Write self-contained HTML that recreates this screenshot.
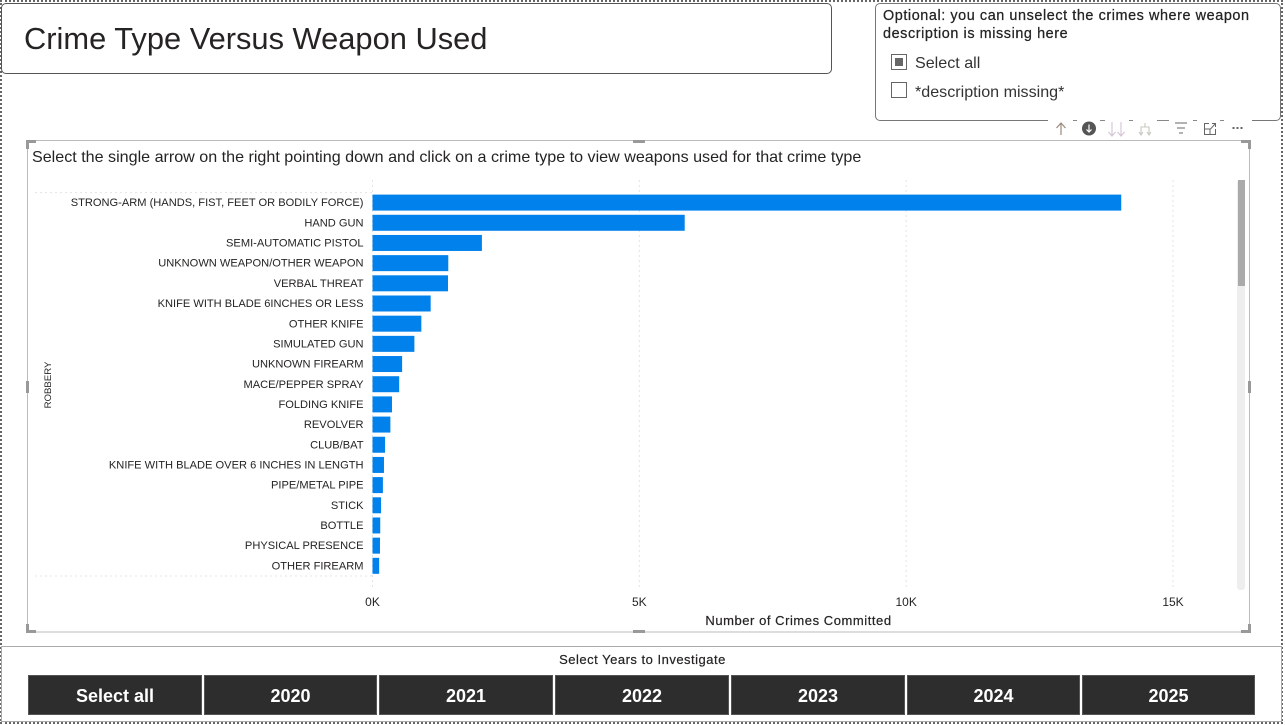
<!DOCTYPE html>
<html lang="en">
<head>
<meta charset="utf-8">
<title>Crime Type Versus Weapon Used</title>
<style>
html,body{margin:0;padding:0;background:#fff;width:1285px;height:725px;overflow:hidden}
#stage{position:relative;width:1285px;height:725px;font-family:"Liberation Sans",sans-serif;color:#222}
#frame{position:absolute;left:0;top:0;width:1279px;height:720px;border:2px dotted #666}
.abs{position:absolute}
#title-card{left:1px;top:3px;width:829px;height:69px;border:1px solid #555;border-radius:5px;background:#fff}
#title-text{position:absolute;left:22px;top:15.5px;font-size:30.85px;line-height:38px;color:#252423;white-space:nowrap}
#slicer-card{left:875px;top:3px;width:404px;height:116px;border:1px solid #777;border-radius:5px;background:#fff}
#slicer-head{position:absolute;left:7px;top:3px;width:396px;font-size:14.4px;line-height:18px;font-weight:400;color:#252423;letter-spacing:.58px;-webkit-text-stroke:.25px #252423}
.check{position:absolute;left:15px;width:14px;height:14px;border:1px solid #666;background:#fff}
.check-label{position:absolute;left:39px;font-size:16.1px;line-height:20px;color:#333;white-space:nowrap}
#check-fill{position:absolute;left:3px;top:3px;width:8px;height:8px;background:#666}
#bottom-card{left:1px;top:646px;width:1279px;height:74px;border:1px solid #aaa;background:#fff}
#years-title{left:0;top:652px;width:1285px;text-align:center;font-size:13px;line-height:16px;color:#252423;letter-spacing:.5px;-webkit-text-stroke:.2px #252423}
.year-btn{position:absolute;top:675px;height:38px;border:1px solid #555;background:#2d2d2d;color:#fff;font-family:"Liberation Sans",sans-serif;font-weight:700;font-size:18px;line-height:41px;text-align:center;padding:0;box-sizing:content-box}
svg{position:absolute;left:0;top:0}
</style>
</head>
<body>
<div id="stage">
  <div id="frame"></div>

  <div id="title-card" class="abs">
    <div id="title-text">Crime Type Versus Weapon Used</div>
  </div>

  <div id="slicer-card" class="abs">
    <div id="slicer-head">Optional: you can unselect the crimes where weapon description is missing here</div>
    <div class="check" style="top:50px"><div id="check-fill"></div></div>
    <div class="check-label" style="top:49px">Select all</div>
    <div class="check" style="top:78px"></div>
    <div class="check-label" style="top:78px">*description missing*</div>
  </div>

  <svg id="chart" width="1285" height="725" viewBox="0 0 1285 725"></svg>

  <div id="bottom-card" class="abs"></div>
  <div id="years-title" class="abs">Select Years to Investigate</div>
  <button class="year-btn" style="left:28px;width:172px">Select all</button>
  <button class="year-btn" style="left:204px;width:171px">2020</button>
  <button class="year-btn" style="left:379px;width:172px">2021</button>
  <button class="year-btn" style="left:555px;width:172px">2022</button>
  <button class="year-btn" style="left:731px;width:172px">2023</button>
  <button class="year-btn" style="left:907px;width:171px">2024</button>
  <button class="year-btn" style="left:1082px;width:171px">2025</button>
</div>

<script>
const categories = [
  "STRONG-ARM (HANDS, FIST, FEET OR BODILY FORCE)",
  "HAND GUN",
  "SEMI-AUTOMATIC PISTOL",
  "UNKNOWN WEAPON/OTHER WEAPON",
  "VERBAL THREAT",
  "KNIFE WITH BLADE 6INCHES OR LESS",
  "OTHER KNIFE",
  "SIMULATED GUN",
  "UNKNOWN FIREARM",
  "MACE/PEPPER SPRAY",
  "FOLDING KNIFE",
  "REVOLVER",
  "CLUB/BAT",
  "KNIFE WITH BLADE OVER 6 INCHES IN LENGTH",
  "PIPE/METAL PIPE",
  "STICK",
  "BOTTLE",
  "PHYSICAL PRESENCE",
  "OTHER FIREARM"
];
const crimeCounts = [14030, 5850, 2050, 1420, 1415, 1090, 915, 785, 555, 500, 365, 335, 235, 215, 195, 160, 145, 140, 125];
const tickValues = [0, 5000, 10000, 15000];
const tickLabels = ["0K", "5K", "10K", "15K"];
const groupLabel = "ROBBERY";

const NS = "http://www.w3.org/2000/svg";
const svg = document.getElementById("chart");
const FONT = '"Liberation Sans",sans-serif';

function xScale(v) { return 372.5 + v * (1173 - 372.5) / 15000; }
function yBand(i) { return 192.6 + i * (576 - 192.6) / categories.length; }

function shape(tag, attrs) {
  const el = document.createElementNS(NS, tag);
  for (const k in attrs) el.setAttribute(k, attrs[k]);
  svg.appendChild(el);
  return el;
}

/* visual frame */
const frameRect = shape("rect", {x: 27.5, y: 140.5, width: 1222, height: 491.5, fill: "#fff", stroke: "#bbb", "stroke-width": 1});



/* heading */
const heading = shape("text", {x: 32, y: 162, "font-size": 16.1, fill: "#252423", "font-family": FONT});
heading.textContent = "Select the single arrow on the right pointing down and click on a crime type to view weapons used for that crime type";



/* gridlines and x ticks */
tickValues.forEach(function (v, i) {
  const grid = shape("line", {x1: xScale(v), x2: xScale(v), y1: 180, y2: 590, stroke: "#e4e4e4", "stroke-width": 1, "stroke-dasharray": "2 3"});
  
  
  const tick = shape("text", {x: xScale(v), y: 606, "text-anchor": "middle", "font-size": 12, fill: "#252423", "font-family": FONT});
  tick.textContent = tickLabels[i];
  
  
});

/* group separators */
[yBand(0), yBand(categories.length)].forEach(function (y) {
  const sep = shape("line", {x1: 35, x2: xScale(0), y1: y, y2: y, stroke: "#e4e4e4", "stroke-width": 1, "stroke-dasharray": "2 3"});
  
  
});

/* bars and labels */
categories.forEach(function (name, i) {
  const y = yBand(i);
  const bar = shape("rect", {x: xScale(0), y: y + 2, width: xScale(crimeCounts[i]) - xScale(0), height: 16, fill: "#0081eb"});
  
  
  const label = shape("text", {x: 363.5, y: y + 13.6, "text-anchor": "end", "font-size": 11.1, fill: "#252423", "font-family": FONT});
  label.textContent = name;
  
  
});

/* axis titles */
const xTitle = shape("text", {x: 798.5, y: 625, "text-anchor": "middle", "font-size": 13, fill: "#252423", "font-family": FONT, "letter-spacing": 0.55, stroke: "#252423", "stroke-width": 0.2});
xTitle.textContent = "Number of Crimes Committed";



const groupText = shape("text", {x: 0, y: 0, "text-anchor": "middle", "font-size": 9.6, fill: "#252423", "font-family": FONT, transform: "translate(51 385) rotate(-90)"});
groupText.textContent = groupLabel;



/* scrollbar */
const track = shape("rect", {x: 1237, y: 180, width: 8, height: 410, rx: 3, fill: "#eeeeee"});


const thumb = shape("rect", {x: 1238, y: 180, width: 7, height: 106, fill: "#aaaaaa"});



/* resize handles */
const handlePaths = [
  "M26 149V140H36V143H29V149Z",
  "M1241 140H1251V149H1248V143H1241Z",
  "M26 624H29V630H36V633H26Z",
  "M1248 624H1251V633H1241V630H1248Z",
  "M633 140H645V143H633Z",
  "M633 630H645V633H633Z",
  "M26 381H29V393H26Z",
  "M1248 381H1251V393H1248Z"
];
handlePaths.forEach(function (d) {
  const h = shape("path", {d: d, fill: "#999"});
  
  
});

/* toolbar */
const toolbarBg = shape("rect", {x: 1048, y: 116, width: 204, height: 23, fill: "#fff"});



const cardDashes = shape("path", {d: "M1073 120.5H1077M1100 120.5H1105M1129 120.5H1133M1157 120.5H1169M1193 120.5H1197M1220 120.5H1224", fill: "none", stroke: "#888", "stroke-width": 1});



const upIcon = shape("path", {d: "M1061 135V123M1056.5 128L1061 123L1065.5 128", fill: "none", stroke: "#9a8a7a", "stroke-width": 1.2});



const downCircle = shape("circle", {cx: 1089, cy: 128.5, r: 7, fill: "#555"});


const downArrow = shape("path", {d: "M1089 124.5V132M1086.5 129.5L1089 132L1091.5 129.5", fill: "none", stroke: "#fff", "stroke-width": 1.2});



const doubleDown = shape("path", {d: "M1112 122V136M1108.5 132L1112 136L1115.5 132M1121 122V136M1117.5 132L1121 136L1124.5 132", fill: "none", stroke: "#d3c4d3", "stroke-width": 1.1});



const expandIcon = shape("path", {d: "M1145 123V127M1141 135V127H1149V135M1139 132L1141 135L1143 132M1147 132L1149 135L1151 132", fill: "none", stroke: "#c8c8c0", "stroke-width": 1.1});



const filterIcon = shape("path", {d: "M1175 123H1187M1177 128H1185M1179 133H1183", fill: "none", stroke: "#666", "stroke-width": 1.1});



const focusIcon = shape("path", {d: "M1209 123.5H1204.5V134.5H1215.5V129M1204.5 129H1210V134.5M1210.5 129L1215 124M1212 123.5H1215.5V127", fill: "none", stroke: "#666", "stroke-width": 1});



const moreIcon = shape("path", {d: "M1232.5 128H1234.5M1236.5 128H1238.5M1240.5 128H1242.5", fill: "none", stroke: "#666", "stroke-width": 2});


</script>
</body>
</html>
